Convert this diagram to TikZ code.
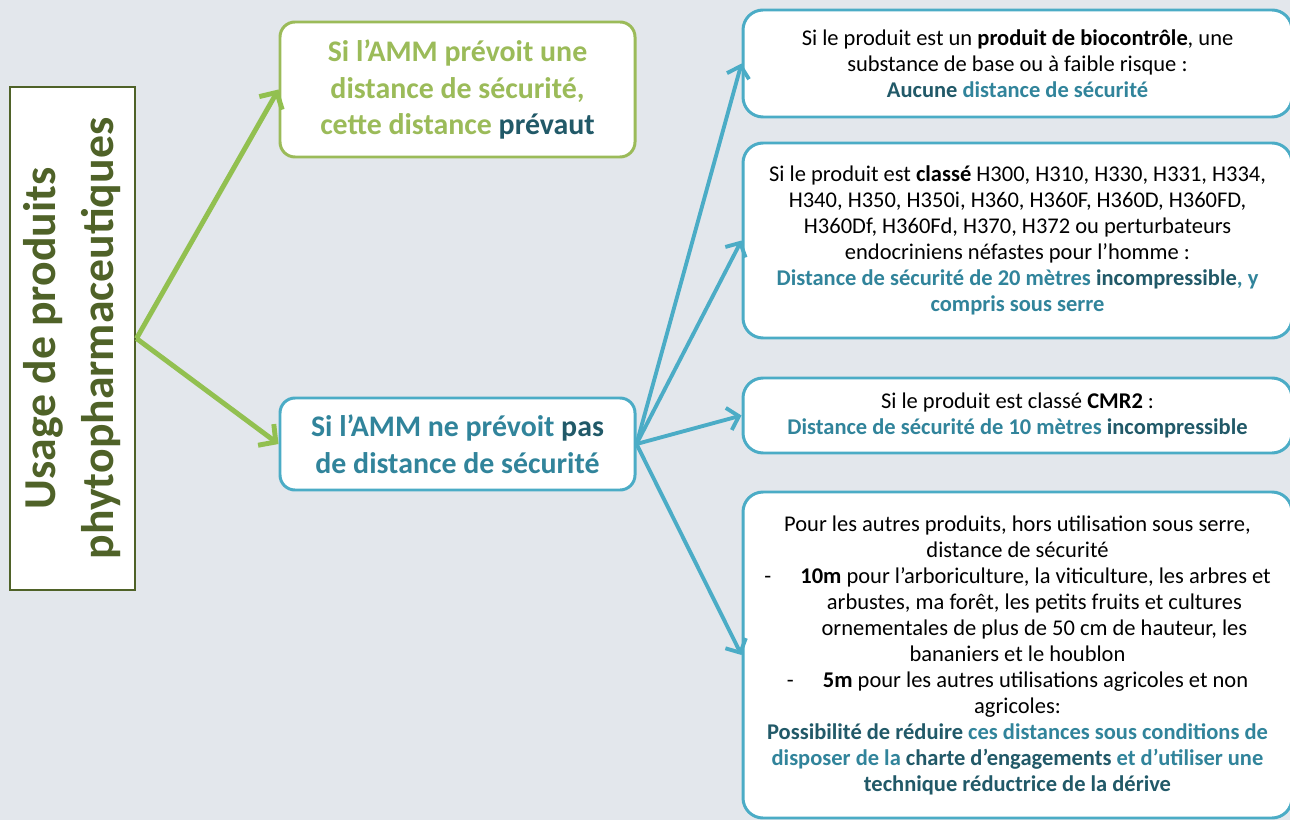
\documentclass[tikz,border=0pt]{standalone}
\usepackage{fontspec}
\setmainfont{Carlito}
\usetikzlibrary{arrows.meta}
\definecolor{hintergrund}{HTML}{E3E7EC}
\definecolor{hellgruen}{HTML}{9BBB59}
\definecolor{pfeilgruen}{HTML}{92C050}
\definecolor{dunkelgruen}{HTML}{4F6228}
\definecolor{blau}{HTML}{4BACC6}
\definecolor{petrol}{HTML}{31849B}
\definecolor{dunkelpetrol}{HTML}{215968}
\tikzset{
  kasten/.style={draw, fill=white, line width=1.7pt, rounded corners=0.35cm, align=center, inner sep=0pt},
  gruenkasten/.style={kasten, draw=hellgruen, text=hellgruen, font=\fontsize{17}{20.8}\selectfont\bfseries},
  blaukasten/.style={kasten, draw=blau, font=\fontsize{12.8}{14.8}\selectfont, rounded corners=0.4cm},
  gruenpfeil/.style={draw=pfeilgruen, line width=2.8pt, -{Straight Barb[length=7pt,width=15pt]}},
  blaupfeil/.style={draw=blau, line width=2.2pt, -{Straight Barb[length=6pt,width=13pt]}}
}
\begin{document}
\begin{tikzpicture}
        \fill[hintergrund] (0,0) rectangle (25.8,-16.4);
        \useasboundingbox (0,0) rectangle (25.8,-16.4);
        % linke Spalte
        \node[draw=dunkelgruen, fill=white, line width=1.7pt, minimum width=2.5cm, minimum height=10.06cm, inner sep=0pt] (usage) at (1.45,-6.77)
            {\rotatebox{90}{\color{dunkelgruen}\fontsize{26}{33}\selectfont\bfseries\begin{tabular}{@{}c@{}}Usage de produits\\phytopharmaceutiques\end{tabular}}};
        % mittlere Spalte
        \node[gruenkasten, minimum width=7.1cm, minimum height=2.7cm, rounded corners=0.3cm] (amm) at (9.15,-1.79)
            {Si l’AMM prévoit une\\distance de sécurité,\\cette distance \textcolor{dunkelpetrol}{prévaut}};
        \node[gruenkasten, draw=blau, text=petrol, minimum width=7.1cm, minimum height=1.84cm, rounded corners=0.3cm] (keine) at (9.15,-8.88)
            {Si l’AMM ne prévoit \textcolor{dunkelpetrol}{pas}\\de distance de sécurité};
        % rechte Spalte
        \node[blaukasten, minimum width=10.98cm, minimum height=2.14cm] (bio) at (20.35,-1.27)
            {Si le produit est un \textbf{produit de biocontrôle}, une\\substance de base ou à faible risque :\\{\bfseries\color{dunkelpetrol}Aucune \color{petrol}distance de sécurité}};
        \node[blaukasten, minimum width=10.98cm, minimum height=3.9cm] (klasse) at (20.35,-4.81)
            {Si le produit est \textbf{classé} H300, H310, H330, H331, H334,\\H340, H350, H350i, H360, H360F, H360D, H360FD,\\H360Df, H360Fd, H370, H372 ou perturbateurs\\endocriniens néfastes pour l’homme :\\{\bfseries\color{petrol}Distance de sécurité de 20 mètres \color{dunkelpetrol}incompressible\color{petrol}, y}\\{\bfseries\color{petrol}compris sous serre}};
        \node[blaukasten, minimum width=10.98cm, minimum height=1.5cm] (cmr) at (20.35,-8.31)
            {Si le produit est classé \textbf{CMR2} :\\{\bfseries\color{petrol}Distance de sécurité de 10 mètres \color{dunkelpetrol}incompressible}};
        \node[blaukasten, minimum width=10.98cm, minimum height=6.52cm] (andere) at (20.35,-13.1)
            {Pour les autres produits, hors utilisation sous serre,\\distance de sécurité\\-\hspace{1.3em}\textbf{10m} pour l’arboriculture, la viticulture, les arbres et\\\hspace{1.5em}arbustes, ma forêt, les petits fruits et cultures\\\hspace{1.5em}ornementales de plus de 50 cm de hauteur, les\\bananiers et le houblon\\-\hspace{1.3em}\textbf{5m} pour les autres utilisations agricoles et non\\agricoles:\\{\bfseries\color{dunkelpetrol}Possibilité de réduire \color{petrol}ces distances sous conditions de}\\{\bfseries\color{petrol}disposer de la \color{dunkelpetrol}charte d’engagements \color{petrol}et d’utiliser une}\\{\bfseries\color{dunkelpetrol}technique réductrice de la dérive}};
        % Pfeile
        \draw[gruenpfeil] (usage.east) -- (amm.west);
        \draw[gruenpfeil] (usage.east) -- (keine.west);
        \foreach \ziel in {bio, klasse, cmr, andere}
            \draw[blaupfeil] (keine.east) -- (\ziel.west);
    \end{tikzpicture}
\end{document}
